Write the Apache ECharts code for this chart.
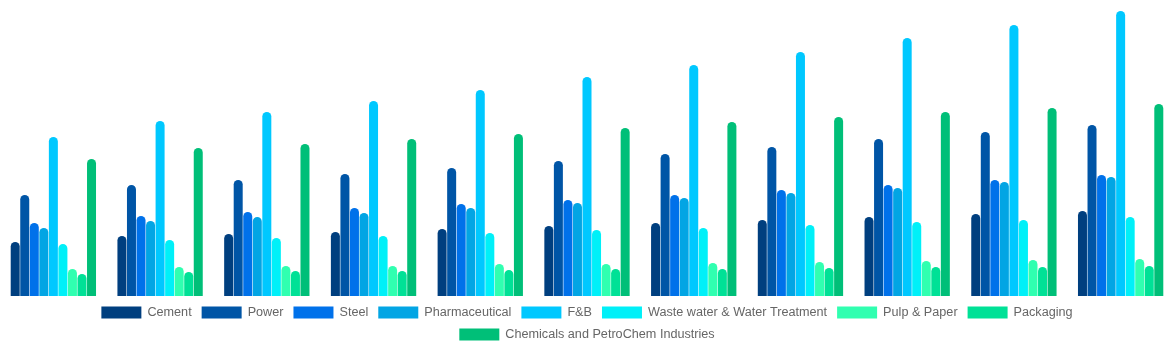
<!DOCTYPE html>
<html>
<head>
<meta charset="utf-8">
<script src="https://cdn.jsdelivr.net/npm/echarts@6/dist/echarts.min.js"></script>
<style>html,body{margin:0;padding:0;background:#fff;}#c{width:1174px;height:350px;}</style>
</head>
<body>
<div id="c"></div>
<script>
const categories = ['2022','2023','2024','2025','2026','2027','2028','2029','2030','2031','2032'];
const seriesNames = ['Cement','Power','Steel','Pharmaceutical','F&B','Waste water & Water Treatment','Pulp & Paper','Packaging','Chemicals and PetroChem Industries'];
const cement        = [54, 60, 62, 64, 67, 70, 73, 76, 79, 82, 85];
const power         = [101, 111, 116, 122, 128, 135, 142, 149, 157, 164, 171];
const steel         = [73, 80, 84, 88, 92, 96, 101, 106, 111, 116, 121];
const pharma        = [68, 75, 79, 83, 88, 93, 98, 103, 108, 114, 119];
const fnb           = [159, 175, 184, 195, 206, 219, 231, 244, 258, 271, 285];
const wastewater    = [52, 56, 58, 60, 63, 66, 68, 71, 74, 76, 79];
const pulpPaper     = [27, 29, 30, 30, 32, 32, 33, 34, 35, 36, 37];
const packaging     = [22, 24, 25, 25, 26, 27, 27, 28, 29, 29, 30];
const chemicals     = [137, 148, 152, 157, 162, 168, 174, 179, 184, 188, 192];
const colors = ['#003f7f','#0055a6','#0071ea','#02a5e4','#00c8ff','#00f0f8','#30ffb0','#00e196','#00bf78'];
const allData = [cement, power, steel, pharma, fnb, wastewater, pulpPaper, packaging, chemicals];

const legendBase = {
  left: 'center',
  icon: 'rect',
  itemWidth: 40,
  itemHeight: 12,
  itemGap: 10,
  textStyle: { color: '#666', fontSize: 12.65, padding: [0, 0, 0, 1], fontFamily: 'Liberation Sans, Arial, sans-serif' }
};

const chart = echarts.init(document.getElementById('c'));
chart.setOption({
  animation: false,
  color: colors,
  grid: { left: 0, right: 0, top: 0, bottom: 54, containLabel: false },
  legend: [
    Object.assign({}, legendBase, { data: seriesNames.slice(0, 8), top: 301 }),
    Object.assign({}, legendBase, { data: seriesNames.slice(8), top: 323 })
  ],
  xAxis: { type: 'category', data: categories, show: false },
  yAxis: { type: 'value', min: 0, max: 296, show: false },
  series: allData.map((d, i) => ({
    name: seriesNames[i],
    type: 'bar',
    data: d,
    barWidth: 9,
    barGap: '6%',
    itemStyle: { borderRadius: [5, 5, 0, 0] }
  }))
});
</script>
</body>
</html>
